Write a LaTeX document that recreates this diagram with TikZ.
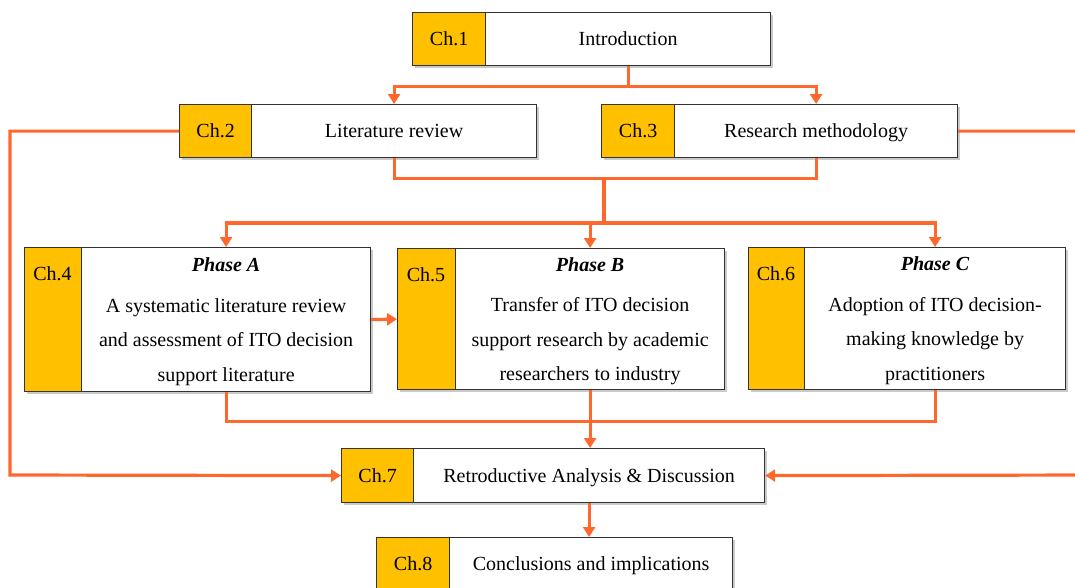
\documentclass[tikz,border=0pt]{standalone}
\usepackage{fontspec}
\setmainfont{Liberation Serif}
\newfontfamily\diagramfont{Liberation Serif}
\usetikzlibrary{arrows.meta,shadows}
\definecolor{chapyellow}{RGB}{255,192,0}
\definecolor{flow}{RGB}{255,104,44}
\definecolor{edge}{RGB}{50,50,50}
\tikzset{
  boxbase/.style={draw=edge, line width=1.2pt, anchor=north west, inner sep=0pt,
    drop shadow={shadow xshift=2.5pt, shadow yshift=-2.5pt, opacity=0.35, fill=black!60}},
  chapbox/.style={boxbase, fill=chapyellow},
  textbox/.style={boxbase, fill=white, align=center},
  oneline/.style={text height=16pt, text depth=3pt},
  flowline/.style={draw=flow, line width=3.2pt},
  flowarrow/.style={flowline, -{Triangle[width=12pt,length=10pt]}},
}
\newcommand{\phasetitle}[1]{\rule{0pt}{18pt}\textbf{\textit{#1}}}
\begin{document}
\begin{tikzpicture}[x=1pt, y=-1pt, font=\diagramfont\fontsize{20}{34.5}\selectfont]
\useasboundingbox (0,0) rectangle (1075,587);
\clip (0,0) rectangle (1075,587);

% Chapter boxes: yellow tag + white content
\node[chapbox, oneline, minimum width=73pt, minimum height=53pt] (c1) at (412,12) {Ch.1};
\node[textbox, oneline, minimum width=285pt, minimum height=53pt] (t1) at (485,12) {Introduction};

\node[chapbox, oneline, minimum width=72pt, minimum height=53pt] (c2) at (179,104) {Ch.2};
\node[textbox, oneline, minimum width=285pt, minimum height=53pt] (t2) at (251,104) {Literature review};

\node[chapbox, oneline, minimum width=73pt, minimum height=53pt] (c3) at (601,104) {Ch.3};
\node[textbox, oneline, minimum width=283pt, minimum height=53pt] (t3) at (674,104) {Research methodology};

\node[chapbox, minimum width=57pt, minimum height=144pt] (c4) at (24,247) {};
\node (l4) at (52.5,274) {Ch.4};
\node[textbox, minimum width=289pt, minimum height=144pt] (t4) at (81,247)
  {\phasetitle{Phase A}\\[6pt] A systematic literature review\\ and assessment of ITO decision\\ support literature};

\node[chapbox, minimum width=58pt, minimum height=141pt] (c5) at (397,248) {};
\node (l5) at (426,275) {Ch.5};
\node[textbox, minimum width=269pt, minimum height=141pt] (t5) at (455,248)
  {\phasetitle{Phase B}\\[6pt] Transfer of ITO decision\\ support research by academic\\ researchers to industry};

\node[chapbox, minimum width=56pt, minimum height=142pt] (c6) at (748,247) {};
\node (l6) at (776,274) {Ch.6};
\node[textbox, minimum width=261pt, minimum height=142pt] (t6) at (804,247)
  {\phasetitle{Phase C}\\[6pt] Adoption of ITO decision-\\ making knowledge by\\ practitioners};

\node[chapbox, oneline, minimum width=72pt, minimum height=54pt] (c7) at (341,448) {Ch.7};
\node[textbox, oneline, minimum width=351pt, minimum height=54pt] (t7) at (413,448) {Retroductive Analysis \& Discussion};

\node[chapbox, oneline, minimum width=73pt, minimum height=53pt] (c8) at (376,537) {Ch.8};
\node[textbox, oneline, minimum width=283pt, minimum height=53pt] (t8) at (449,537) {Conclusions and implications};

% Junctions and off-page turning points
\coordinate (j2) at (604,177);
\coordinate (j3) at (604,223);
\coordinate (lft) at (10,475);
\coordinate (rgt) at (1095,475);

% Ch.1 to Ch.2 and Ch.3
\draw[flowarrow] (t1.south) -- ++(0,20) -| (t2.north);
\draw[flowarrow] (t1.south) -- ++(0,20) -| (t3.north);

% Ch.2 and Ch.3 merge, then split to the three phases
\draw[flowline] (t2.south) -- ++(0,20) -| (t3.south);
\draw[flowline] (j2) -- (j3);
\draw[flowarrow] (j3) -| (t4.north);
\draw[flowarrow] (j3) -| (t5.north);
\draw[flowarrow] (j3) -| (t6.north);

% Phase A feeds Phase B
\draw[flowarrow] (t4.east) -- (c5.west);

% Phases merge into Ch.7
\draw[flowline] (t4.south) -- ++(0,29) -| (t6.south);
\draw[flowarrow] (t5.south) -- (t5.south |- t7.north);

% Side feedback paths into Ch.7
\draw[flowarrow] (c2.west) -| (lft) -- (c7.west);
\draw[flowarrow] (t3.east) -| (rgt) -- (t7.east);

% Ch.7 to Ch.8
\draw[flowarrow] (t7.south) -- (t7.south |- t8.north);
\end{tikzpicture}
\end{document}
